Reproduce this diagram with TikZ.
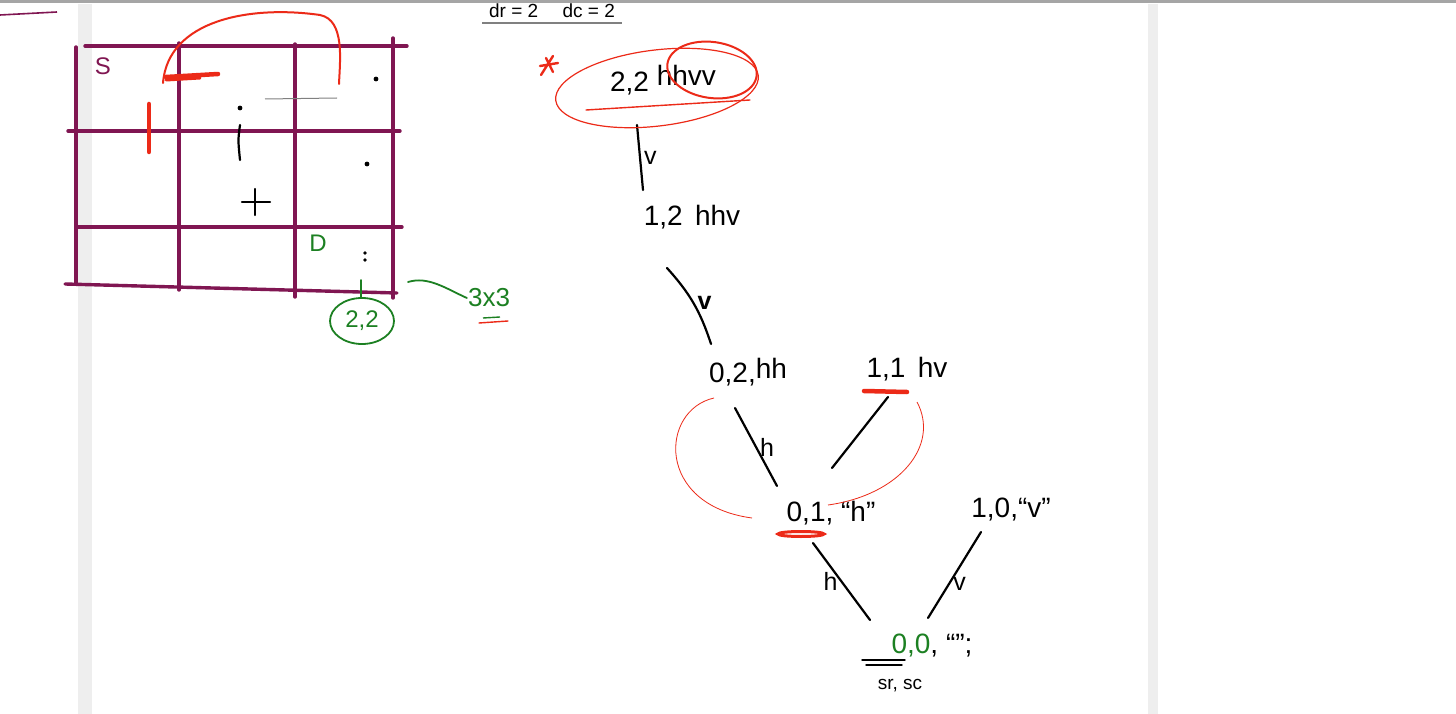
\documentclass[tikz,border=0pt]{standalone}
\usepackage{fontspec}
\setmainfont{Liberation Sans}
\usetikzlibrary{
  positioning,
  calc,
  shapes.geometric
}
\definecolor{GridMaroon}{RGB}{128,22,82}
\definecolor{InkRed}{RGB}{236,42,24}
\definecolor{InkGreen}{RGB}{28,128,34}
\definecolor{PageEdge}{RGB}{238,238,238}
\definecolor{BarGray}{RGB}{165,165,165}
\tikzset{
  gridline/.style={draw=GridMaroon,line width=3.4pt,line cap=round},
  ink/.style={draw=black,line width=2.2pt,line cap=round},
  redink/.style={draw=InkRed,line width=1.4pt,line cap=round},
  redthin/.style={draw=InkRed,line width=0.8pt},
  redmark/.style={draw=InkRed,line width=4.5pt,line cap=round},
  greenink/.style={draw=InkGreen,line width=1.8pt,line cap=round},
  state/.style={inner sep=1pt,font=\fontsize{28}{30}\selectfont},
  edgelabel/.style={inner sep=3pt,font=\fontsize{25}{28}\selectfont},
  celllabel/.style={inner sep=1pt,font=\fontsize{24}{28}\selectfont}
}

\begin{document}
\begin{tikzpicture}[x=1pt,y=-1pt]
\useasboundingbox (0,0) rectangle (1456,714);
\clip (0,0) rectangle (1456,714);
\fill[white] (0,0) rectangle (1456,714);

% page edges
\fill[PageEdge] (78,4) rectangle (92,714);
\fill[PageEdge] (1148,4) rectangle (1158,714);
\fill[BarGray] (0,0) rectangle (1456,3);

% heading
\draw[GridMaroon,line width=1.6pt] (0,15) -- (57,12);
\node[font=\fontsize{19}{21}\selectfont,inner sep=0pt] (dims) at (552,11) {dr = 2 \quad dc = 2};
\draw[gray,line width=2pt] (482,23) -- (622,23);

% grid
\foreach \x/\a/\b in {76/47/283, 179/43/290, 295/44/297, 393/38/298}
  \draw[gridline] (\x,\a) -- (\x,\b);
\foreach \a/\y/\b/\z in {85/46/407/46, 68/131/400/131, 77/227/402/227, 65/284/397/293}
  \draw[gridline] (\a,\y) -- (\b,\z);

\node[celllabel,text=GridMaroon] (src) at (103,66) {S};
\node[celllabel,text=InkGreen] (dst) at (318,243) {D};
\node[celllabel,text=InkGreen,draw=InkGreen,line width=1.8pt,ellipse,inner sep=0pt,minimum width=64pt,minimum height=46pt] (cell22) at (362,321) {2,2};
\node[celllabel,text=InkGreen,font=\fontsize{26}{28}\selectfont] (size) at (489,298) {3x3};
\coordinate (gridend) at (408,282);
\draw[greenink] (gridend) .. controls (428,276) and (445,288) .. (size.west);
\draw[greenink] (361,280) -- (361,298);
\draw[InkGreen,line width=1.4pt] (483,318) -- (500,317);
\draw[redink] (479,323) -- (508,321);

% marks inside the grid
\fill (376,79) circle (2.4);
\fill (367,164) circle (2.4);
\fill (365,253) circle (1.9);
\fill (365,260) circle (1.9);
\fill (240,108) circle (2.4);
\draw[ink] (240,125) .. controls (238,140) .. (240,160);
\draw[ink] (242,202) -- (270,202) (255,189) -- (255,215);
\draw[gray,line width=1pt] (265,99) -- (337,98);
\draw[redink,line width=2pt] (163,83) .. controls (168,20) and (250,5) .. (320,15) .. controls (345,20) and (340,60) .. (339,84);
\draw[redmark] (166,77) -- (218,74);
\draw[redmark,line width=3pt] (166,80) -- (200,78);
\draw[redmark] (149,104) -- (149,152);

% recursion tree
\node[state] (n22) at (663,80) {2,2 \raisebox{6pt}{hhvv}};
\node[state] (n12) at (692,217) {1,2 \,hhv};
\node[state] (n02) at (748,372) {0,2,\raisebox{4pt}{hh}};
\node[state] (n11) at (907,369) {1,1 \,hv};
\node[state] (n01) at (831,513) {0,1, ``h''};
\node[state] (n10) at (1011,510) {1,0,``v''};
\node[state] (n00) at (932,646) {\textcolor{InkGreen}{0,0}, ``'';};
\node[font=\fontsize{19}{21}\selectfont,inner sep=1pt] (srsc) at (900,686) {sr, sc};

\draw[ink] ([shift={(-26,45)}]n22.center) -- node[edgelabel,right]{v} ([shift={(-49,-27)}]n12.center);
\draw[ink] ([shift={(-25,51)}]n12.center) to[bend left=12] node[edgelabel,right,font=\bfseries\fontsize{25}{28}\selectfont]{v} ([shift={(-37,-28)}]n02.center);
\draw[ink] ([shift={(-13,36)}]n02.center) -- node[edgelabel,right]{h} ([shift={(-54,-27)}]n01.center);
\draw[ink] ([shift={(-19,28)}]n11.center) -- ([shift={(1,-45)}]n01.center);
\draw[ink] ([shift={(-18,30)}]n01.center) -- node[edgelabel,left]{h} ([shift={(-62,-26)}]n00.center);
\draw[ink] ([shift={(-30,22)}]n10.center) -- node[edgelabel,right,pos=0.6]{v} ([shift={(-4,-28)}]n00.center);

% red highlights
\draw[redthin,line width=1.2pt] (657,88) ellipse [x radius=102, y radius=38, rotate=7];
\draw[redink,line width=2pt] (712,70) ellipse [x radius=45, y radius=28, rotate=-8];
\draw[redink] (586,110) -- (750,100);
\draw[redink,line width=2.4pt] (541,75) -- (553,56) (540,66) -- (558,63) (546,58) -- (553,72);
\draw[redmark] (864,391) -- (907,392);
\draw[redink,line width=3pt] (801,534) ellipse [x radius=23, y radius=2.5];
\draw[redthin] (714,398) .. controls (660,410) and (655,505) .. (752,518);
\draw[redthin] (917,402) .. controls (940,445) and (900,495) .. (828,505);
\draw[ink,line width=1.4pt] (862,660) -- (905,660) (866,665) -- (902,665);
\end{tikzpicture}
\end{document}
